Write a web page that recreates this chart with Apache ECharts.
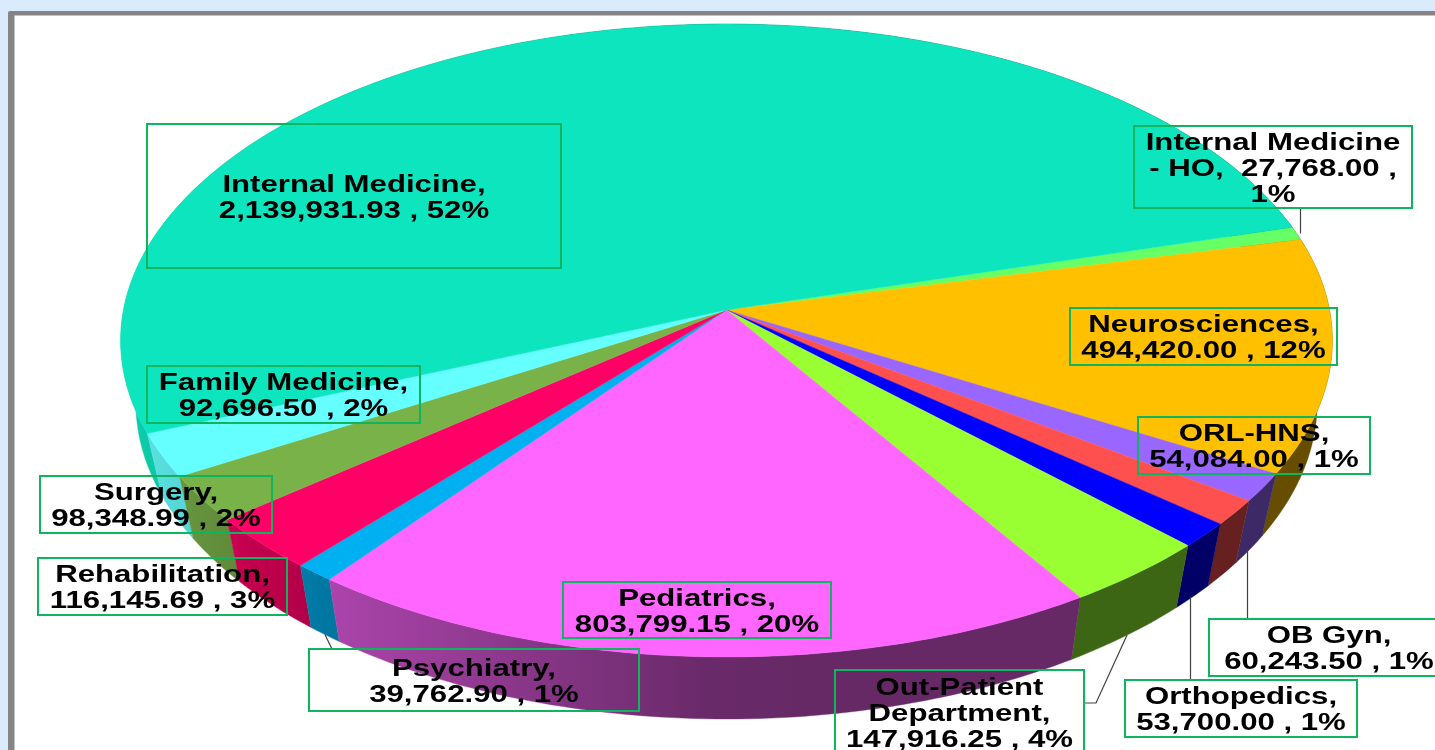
<!DOCTYPE html>
<html><head><meta charset="utf-8">
<style>html,body{margin:0;padding:0;background:#DAEBFE;overflow:hidden}#c{width:1435px;height:750px}</style>
<script src="https://cdn.jsdelivr.net/npm/echarts@6/dist/echarts.min.js"></script>
</head><body><div id="c"></div>
<script>
// Data, clockwise from the top-right
const categories = ['Internal Medicine - HO','Neurosciences','OB Gyn','ORL-HNS','Orthopedics','Out-Patient Department','Pediatrics','Psychiatry','Rehabilitation','Surgery','Family Medicine','Internal Medicine'];
const values = [27768.00,494420.00,60243.50,54084.00,53700.00,147916.25,803799.15,39762.90,116145.69,98348.99,92696.50,2139931.93];
const labelTexts = [
 'Internal Medicine\n- HO,  27,768.00 ,\n1%','Neurosciences,\n494,420.00 , 12%','OB Gyn,\n60,243.50 , 1%','ORL-HNS,\n54,084.00 , 1%',
 'Orthopedics,\n53,700.00 , 1%','Out-Patient\nDepartment,\n147,916.25 , 4%','Pediatrics,\n803,799.15 , 20%','Psychiatry,\n39,762.90 , 1%',
 'Rehabilitation,\n116,145.69 , 3%','Surgery,\n98,348.99 , 2%','Family Medicine,\n92,696.50 , 2%','Internal Medicine,\n2,139,931.93 , 52%'];
// Styles
const topColors = ['#66FF66','#FFC000','#9966FF','#FF5050','#0000FF','#99FF33','#FF66FF','#00B0F0','#FF0066','#7AB24A','#66FFFF','#0DE5BF'];
// Layout: label boxes [x,y,w,h]
const boxes = [[1134,126,278,82],[1070,308,267,57],[1209,619,240,57],[1138,417,232,57],[1125,680,232,57],[835,670,249,84],[563,582,268,56],[309,649,330,62],[38,558,249,57],[40,476,232,57],[147,366,273,57],[147,124,414,144]];
// Leader start points at the box edge; vertical ones keep their x down to the disc
const leaders = {0:{pts:[[1300.5,208]],vertical:true},2:{pts:[[1247.5,619]],vertical:true},4:{pts:[[1190.5,680]],vertical:true},5:{pts:[[1085,703],[1096,703]]},7:{pts:[[332,649]]}};
// Projection of the tilted disc
const P = {ax:726.5, ay:310, a:603, b:313.5, k:0.0965, depth:62, shrink:0.975, start:15.7};
const total = values.reduce((s,v)=>s+v,0);
const spans = []; { let acc=0; values.forEach(v=>{ const s=P.start-acc/total*360; acc+=v; spans.push([s,P.start-acc/total*360]); }); }
function rim(deg, bottom){
  const t=deg*Math.PI/180, u=Math.cos(t), v=-Math.sin(t), d=1-P.k*v;
  const X=P.a*u/d, Y=P.b*v/d;
  return bottom ? [P.ax+X*P.shrink, P.ay+Y+P.depth] : [P.ax+X, P.ay+Y];
}
function arc(a0,a1,bottom){
  const n=Math.max(2,Math.ceil(Math.abs(a1-a0))), r=[];
  for(let i=0;i<=n;i++) r.push(rim(a0+(a1-a0)*i/n,bottom));
  return r;
}
function shade(hex,f){
  const n=parseInt(hex.slice(1),16);
  return 'rgb('+[(n>>16)&255,(n>>8)&255,n&255].map(c=>Math.round(c*f)).join(',')+')';
}
function lightAt(x){
  if(x>=727) return 0.4;
  if(x>=330) return 0.4+(727-x)/397*0.27;
  return Math.min(0.92,0.67+(330-x)/200*0.23);
}
function wallFill(i,pts){
  const xs=pts.map(p=>p[0]), x0=Math.min(...xs), x1=Math.max(...xs), stops=[];
  for(let j=0;j<=8;j++){ stops.push({offset:j/8,color:shade(topColors[i],lightAt(x0+(x1-x0)*j/8))}); }
  return {type:'linear',x:0,y:0,x2:1,y2:0,colorStops:stops};
}
function wallPts(i){
  const [a,b]=spans[i];
  return arc(a,b,false).concat(arc(b,a,true));
}
const wallOrder = values.map((v,i)=>i).sort((p,q)=>{
  const my=i=>Math.max(...wallPts(i).map(c=>c[1])); return my(p)-my(q);
});
const wallData = wallOrder.map(i=>[i,values[i]]);
const rows = values.map((v,i)=>[i,v,categories[i]]);
const option = {
  animation:false,
  backgroundColor:'#DAEBFE',
  graphic:[
    {type:'rect',z:0,silent:true,shape:{x:8,y:11,width:1500,height:800,r:2},style:{fill:'#858585'}},
    {type:'rect',z:0,silent:true,shape:{x:14.5,y:15.5,width:1500,height:800},style:{fill:'#FFFFFF'}}
  ],
  series:[
    {type:'custom',name:'walls',coordinateSystem:'none',z:2,silent:true,data:wallData,
     renderItem:(p,api)=>{const i=api.value(0),pts=wallPts(i);
       const f=wallFill(i,pts);
       return {type:'polygon',shape:{points:pts},style:{fill:f,stroke:f,lineWidth:0.4}};}},
    {type:'custom',name:'slices',coordinateSystem:'none',z:3,silent:true,data:rows,
     renderItem:(p,api)=>{const i=api.value(0),[a,b]=spans[i];
       const c=topColors[i];
       return {type:'polygon',shape:{points:[[P.ax,P.ay]].concat(arc(a,b,false))},style:{fill:c,stroke:c,lineWidth:0.4}};}},
    {type:'custom',name:'leaders',coordinateSystem:'none',z:4,silent:true,data:rows.filter(r=>leaders[r[0]]),
     renderItem:(p,api)=>{const i=api.value(0),[a,b]=spans[i],m=(a+b)/2,L=leaders[i];
       const end=rim(m,Math.sin(m*Math.PI/180)<0);
       if(L.vertical) end[0]=L.pts[0][0];
       return {type:'polyline',shape:{points:L.pts.concat([end])},style:{fill:null,stroke:'#404040',lineWidth:1.2}};}},
    {type:'custom',name:'labels',coordinateSystem:'none',z:5,silent:true,data:rows,
     renderItem:(p,api)=>{const i=api.value(0),[x,y,w,h]=boxes[i];
       return {type:'group',children:[
         {type:'rect',shape:{x:x,y:y,width:w,height:h},style:{fill:null,stroke:'#0FB45E',lineWidth:2}},
         {type:'text',x:x+w/2,y:y+h/2+2.5,scaleX:1.355,style:{x:0,y:0,text:labelTexts[i],align:'center',verticalAlign:'middle',lineHeight:26,font:'bold 23px "Liberation Sans"',fill:'#000000'}}
       ]};}}
  ]
};
const chart=echarts.init(document.getElementById('c'));
chart.setOption(option);
</script></body></html>
